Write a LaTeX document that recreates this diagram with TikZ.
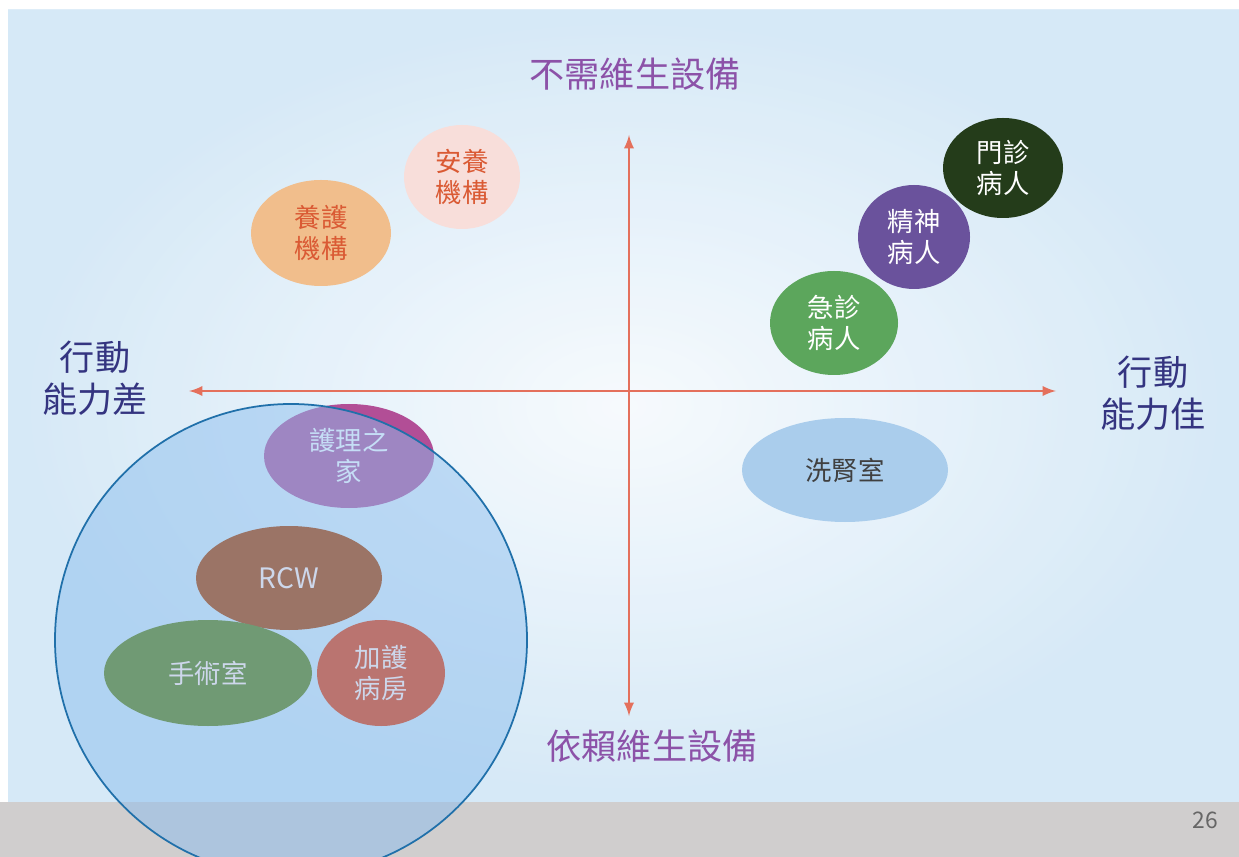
\documentclass[tikz,border=0pt]{standalone}
\usepackage{fontspec}
\setmainfont{Noto Sans CJK TC}
\usetikzlibrary{shapes.geometric}
\definecolor{slideblue}{RGB}{214,233,247}
\definecolor{bandgray}{RGB}{208,206,206}
\definecolor{axisred}{RGB}{228,112,92}
\definecolor{toppurple}{RGB}{140,82,168}
\definecolor{sidenavy}{RGB}{52,52,128}
\definecolor{anyang}{RGB}{248,222,218}
\definecolor{yanghu}{RGB}{241,190,140}
\definecolor{orangetext}{RGB}{218,90,52}
\definecolor{menzhen}{RGB}{36,60,26}
\definecolor{jingshen}{RGB}{106,82,156}
\definecolor{jizhen}{RGB}{92,166,92}
\definecolor{xishen}{RGB}{170,205,236}
\definecolor{huli}{RGB}{178,78,150}
\definecolor{rcwbrown}{RGB}{155,116,102}
\definecolor{surgery}{RGB}{112,154,116}
\definecolor{icu}{RGB}{186,116,112}
\definecolor{circblue}{RGB}{140,190,238}
\definecolor{circedge}{RGB}{32,112,170}
\definecolor{palebluetext}{RGB}{205,215,235}
\tikzset{
  blob/.style={ellipse, inner sep=0pt, align=center, font=\fontsize{15}{18}\selectfont},
  axislabel/.style={align=center, font=\fontsize{20}{24}\selectfont}
}
\begin{document}
\begin{tikzpicture}[x=0.02cm, y=-0.02cm, >=latex]
  \clip (0,0) rectangle (1239,857);
  % slide background
  \fill[white] (0,0) rectangle (1239,857);
  \fill[slideblue] (8,10) rectangle (1239,802);
  \shade[inner color=white, outer color=slideblue, opacity=0.8] (8,10) rectangle (1239,802);
  \fill[bandgray] (0,802) rectangle (1239,857);
  \node[text=gray!80!black, font=\fontsize{13}{15}\selectfont] (page) at (1205,820) {26};

  % axes
  \coordinate (top) at (629,135);
  \coordinate (bottom) at (629,716);
  \coordinate (left) at (189,391);
  \coordinate (right) at (1056,391);
  \draw[<->, axisred, line width=1.6pt] (bottom) -- (top);
  \draw[<->, axisred, line width=1.6pt] (left) -- (right);
  \node[axislabel, text=toppurple] (nosupport) at (635,74) {不需維生設備};
  \node[axislabel, text=toppurple] (support) at (652,746) {依賴維生設備};
  \node[axislabel, text=sidenavy] (poor) at (95,378) {行動\\能力差};
  \node[axislabel, text=sidenavy] (good) at (1153,393) {行動\\能力佳};

  % upper left
  \node[blob, fill=anyang, text=orangetext, minimum width=116*0.02cm, minimum height=104*0.02cm] (anyang) at (462,177) {安養\\機構};
  \node[blob, fill=yanghu, text=orangetext, minimum width=140*0.02cm, minimum height=106*0.02cm] (yanghu) at (321,233) {養護\\機構};

  % upper right
  \node[blob, fill=jizhen, text=white, minimum width=128*0.02cm, minimum height=104*0.02cm] (jizhen) at (834,323) {急診\\病人};
  \node[blob, fill=jingshen, text=white, minimum width=112*0.02cm, minimum height=104*0.02cm] (jingshen) at (914,237) {精神\\病人};
  \node[blob, fill=menzhen, text=white, minimum width=120*0.02cm, minimum height=100*0.02cm] (menzhen) at (1003,168) {門診\\病人};

  % lower right
  \node[blob, fill=xishen, text=darkgray, minimum width=206*0.02cm, minimum height=104*0.02cm] (xishen) at (845,470) {洗腎室};

  % lower left
  \node[blob, fill=huli, text=white, minimum width=170*0.02cm, minimum height=104*0.02cm] (huli) at (349,456) {護理之\\家};
  \fill[circblue, opacity=0.5] (291,640) circle[radius=236];
  \draw[circedge, line width=1pt] (291,640) circle[radius=236];
  \node[blob, fill=rcwbrown, text=palebluetext, font=\fontsize{16}{18}\selectfont, minimum width=186*0.02cm, minimum height=104*0.02cm] (rcw) at (289,578) {RCW};
  \node[blob, fill=surgery, text=palebluetext, minimum width=208*0.02cm, minimum height=106*0.02cm] (surgery) at (208,673) {手術室};
  \node[blob, fill=icu, text=palebluetext, minimum width=128*0.02cm, minimum height=106*0.02cm] (icu) at (381,673) {加護\\病房};
\end{tikzpicture}
\end{document}
